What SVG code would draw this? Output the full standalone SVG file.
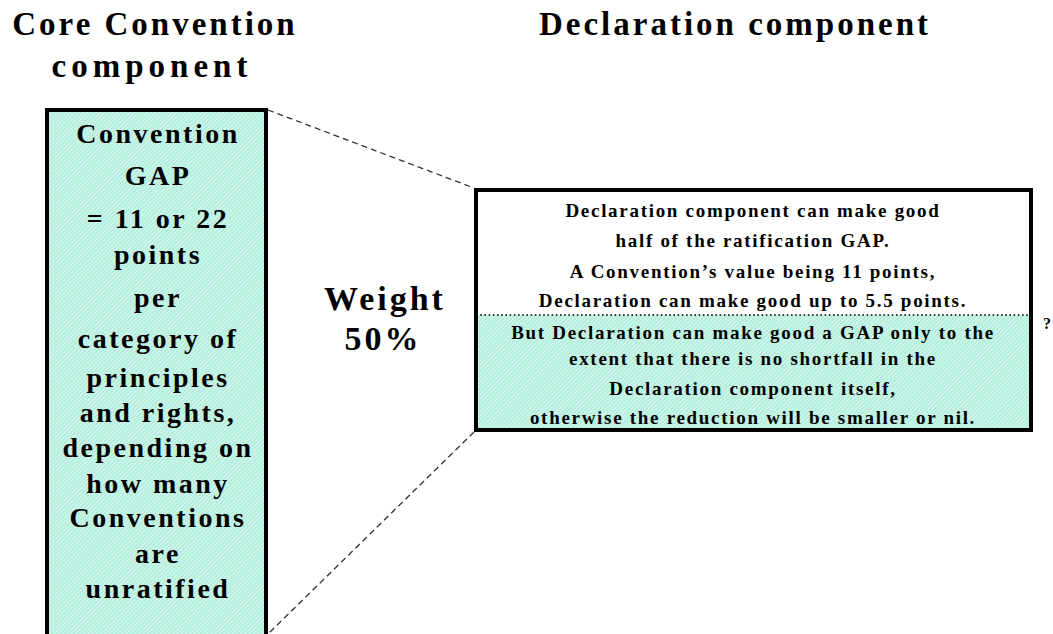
<svg xmlns="http://www.w3.org/2000/svg" width="1053" height="634" viewBox="0 0 1053 634">
  <defs>
    <pattern id="hatch" width="3" height="3" patternUnits="userSpaceOnUse" patternTransform="rotate(45)">
      <rect width="3" height="3" fill="#b3eedd"/>
      <rect width="1" height="3" fill="#d9f8f0"/>
    </pattern>
  </defs>
  <style>
    text { font-family: "Liberation Serif", "Times New Roman", serif; font-weight: bold; fill: #000; text-anchor: middle; }
    .title { font-size: 33px; letter-spacing: 3px; }
    .title2 { font-size: 33px; letter-spacing: 5px; }
    .left { font-size: 28px; letter-spacing: 2.5px; }
    .right { font-size: 19px; letter-spacing: 1.7px; }
    .weight { font-size: 34px; letter-spacing: 3px; }
    .box { stroke: #000; stroke-width: 4; }
    .conn { stroke: #333; stroke-width: 1.3; stroke-dasharray: 6 4; fill: none; }
  </style>

  <g id="titles">
    <text class="title" x="155" y="35">Core Convention</text>
    <text class="title2" x="152" y="77">component</text>
    <text class="title" x="735" y="35">Declaration component</text>
  </g>

  <g id="connectors">
    <line class="conn" x1="268" y1="110" x2="474" y2="188"/>
    <line class="conn" x1="474" y1="432" x2="268" y2="634"/>
  </g>

  <g id="core-box">
    <rect class="box" x="47" y="110" width="219" height="530" fill="url(#hatch)"/>
    <text class="left" x="158" y="143">Convention</text>
    <text class="left" x="158" y="185">GAP</text>
    <text class="left" x="158" y="228">= 11 or 22</text>
    <text class="left" x="158" y="264">points</text>
    <text class="left" x="158" y="307">per</text>
    <text class="left" x="158" y="348">category of</text>
    <text class="left" x="158" y="387">principles</text>
    <text class="left" x="158" y="422">and rights,</text>
    <text class="left" x="158" y="457">depending on</text>
    <text class="left" x="158" y="493">how many</text>
    <text class="left" x="158" y="527">Conventions</text>
    <text class="left" x="158" y="563">are</text>
    <text class="left" x="158" y="598">unratified</text>
  </g>

  <g id="weight">
    <text class="weight" x="385" y="310">Weight</text>
    <text class="weight" x="383" y="350">50%</text>
  </g>

  <g id="declaration-box">
    <rect x="476" y="190" width="555" height="240" fill="#fff"/>
    <rect x="476" y="315" width="555" height="115" fill="url(#hatch)"/>
    <line x1="476" y1="315" x2="1031" y2="315" stroke="#000" stroke-width="1.6" stroke-dasharray="1.6 2.6"/>
    <rect class="box" x="476" y="190" width="555" height="240" fill="none" stroke-width="3.5"/>
    <text class="right" x="753" y="217">Declaration component can make good</text>
    <text class="right" x="753" y="247">half of the ratification GAP.</text>
    <text class="right" x="753" y="278">A Convention’s  value being 11 points,</text>
    <text class="right" x="753" y="307">Declaration can make good up to 5.5 points.</text>
    <text class="right" x="753" y="339">But Declaration can make good a GAP only to the</text>
    <text class="right" x="753" y="365">extent that there is no shortfall in the</text>
    <text class="right" x="753" y="395">Declaration component itself,</text>
    <text class="right" x="753" y="424">otherwise the reduction will be smaller or nil.</text>
  </g>

  <text x="1043" y="329" style="font-size:16px; text-anchor:start">?</text>
</svg>
